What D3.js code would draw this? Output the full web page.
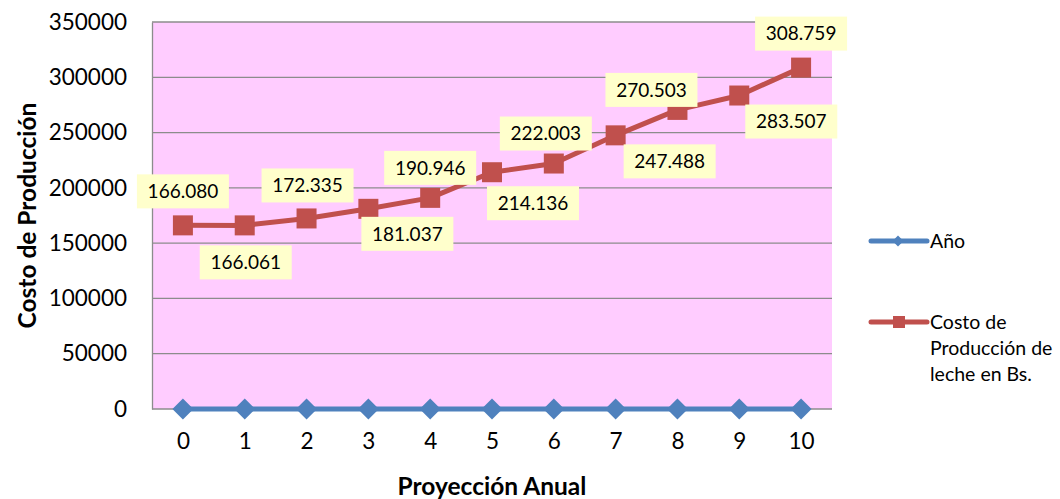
<!DOCTYPE html>
<html>
<head>
<meta charset="utf-8">
<script src="https://cdn.jsdelivr.net/npm/d3@7"></script>
<style>
  body { margin: 0; background: #fff; }
  svg { display: block; font-family: Lato, "Open Sans", sans-serif; }
</style>
</head>
<body>
<div id="chart"></div>
<script>
    // Data
    categorias = ["0", "1", "2", "3", "4", "5", "6", "7", "8", "9", "10"]
    anos = [0, 1, 2, 3, 4, 5, 6, 7, 8, 9, 10]
    costo = [166080, 166061, 172335, 181037, 190946, 214136, 222003, 247488, 270503, 283507, 308759]
    yTicks = [0, 50000, 100000, 150000, 200000, 250000, 300000, 350000]

    // label box offsets (box centre relative to the point), as placed in the original
    labelOffsets = [[0, -34], [1, 37], [1, -33], [39, 25], [0, -30], [41, 31], [-8, -30], [54, 26], [-26, -20], [52, 26], [0, -34]]

    canvas = ({width: 1060, height: 499})
    margin = ({top: 22, right: 228, bottom: 90, left: 152})

    c_red = "#C0504D"
    c_blue = "#4F81BD"
    c_grid = "#8C8C8C"

    x = d3.scalePoint()
        .domain(categorias)
        .range([margin.left, canvas.width - margin.right])
        .padding(0.5)

    y = d3.scaleLinear()
        .domain([0, 350000])
        .range([canvas.height - margin.bottom, margin.top])

    var svg = d3.select("#chart").append("svg")
        .attr("width", canvas.width)
        .attr("height", canvas.height)

    // plot area
    svg.append("rect")
        .attr("x", margin.left)
        .attr("y", margin.top)
        .attr("width", canvas.width - margin.right - margin.left)
        .attr("height", canvas.height - margin.bottom - margin.top)
        .attr("fill", "#FFCCFF")

    // grid
    svg.append("g")
        .selectAll("line")
        .data(yTicks)
        .join("line")
        .attr("x1", margin.left)
        .attr("x2", canvas.width - margin.right)
        .attr("y1", d => y(d))
        .attr("y2", d => y(d))
        .attr("stroke", c_grid)
        .attr("stroke-width", 1.3)

    // y axis
    yAxis = g => g
        .attr("transform", `translate(${margin.left},0)`)
        .call(d3.axisLeft(y).tickValues(yTicks).tickFormat(d3.format("d")).tickSize(0).tickPadding(25))
        .call(g => g.select(".domain").attr("stroke", c_grid).attr("stroke-width", 1.3))
        .call(g => g.selectAll("text").attr("font-size", 22.5).attr("fill", "#000").attr("font-family", "Lato"))

    svg.append("g").call(yAxis)

    // x axis
    xAxis = g => g
        .attr("transform", `translate(0,${canvas.height - margin.bottom})`)
        .call(d3.axisBottom(x).tickSize(0).tickPadding(24))
        .call(g => g.select(".domain").remove())
        .call(g => g.selectAll("text").attr("font-size", 22.5).attr("fill", "#000").attr("font-family", "Lato"))

    svg.append("g").call(xAxis)

    // axis titles
    svg.append("text")
        .attr("x", (margin.left + canvas.width - margin.right) / 2)
        .attr("y", 495)
        .attr("text-anchor", "middle")
        .attr("font-weight", "bold")
        .attr("font-size", 24.5)
        .text("Proyección Anual")

    svg.append("text")
        .attr("transform", `translate(36,${(margin.top + canvas.height - margin.bottom) / 2}) rotate(-90)`)
        .attr("text-anchor", "middle")
        .attr("font-weight", "bold")
        .attr("font-size", 24.5)
        .text("Costo de Producción")

    line = d3.line()
        .x((d, i) => x(categorias[i]))
        .y(d => y(d))

    // Año series
    svg.append("path")
        .attr("fill", "none")
        .attr("stroke", c_blue)
        .attr("stroke-width", 5)
        .attr("stroke-linejoin", "round")
        .attr("d", line(anos))

    svg.append("g")
        .selectAll("path")
        .data(anos)
        .join("path")
        .attr("transform", (d, i) => `translate(${x(categorias[i])},${y(d)})`)
        .attr("d", "M0,-10.5L10.5,0L0,10.5L-10.5,0Z")
        .attr("fill", c_blue)

    // Costo series
    svg.append("path")
        .attr("fill", "none")
        .attr("stroke", c_red)
        .attr("stroke-width", 5)
        .attr("stroke-linejoin", "round")
        .attr("d", line(costo))

    svg.append("g")
        .selectAll("rect")
        .data(costo)
        .join("rect")
        .attr("x", (d, i) => x(categorias[i]) - 10)
        .attr("y", d => y(d) - 10)
        .attr("width", 20)
        .attr("height", 20)
        .attr("fill", c_red)

    // data labels
    fmt = d => d3.format(",")(d).replace(/,/g, ".")

    labels = svg.append("g")
        .selectAll("g")
        .data(costo)
        .join("g")
        .attr("transform", (d, i) => `translate(${x(categorias[i]) + labelOffsets[i][0]},${y(d) + labelOffsets[i][1]})`)

    labels.append("rect")
        .attr("x", -46)
        .attr("y", -17)
        .attr("width", 92)
        .attr("height", 34)
        .attr("fill", "#FFFFCC")

    labels.append("text")
        .attr("text-anchor", "middle")
        .attr("dy", "0.36em")
        .attr("font-size", 19)
        .text(d => fmt(d))

    // legend
    legend = svg.append("g")

    legend.append("line")
        .attr("x1", 871).attr("x2", 927)
        .attr("y1", 241).attr("y2", 241)
        .attr("stroke", c_blue).attr("stroke-width", 5).attr("stroke-linecap", "round")
    legend.append("path")
        .attr("transform", "translate(898,241)")
        .attr("d", "M0,-5.5L5.5,0L0,5.5L-5.5,0Z")
        .attr("fill", c_blue)
    legend.append("text")
        .attr("x", 930).attr("y", 241).attr("dy", "0.36em")
        .attr("font-size", 19.5)
        .text("Año")

    legend.append("line")
        .attr("x1", 871).attr("x2", 927)
        .attr("y1", 322).attr("y2", 322)
        .attr("stroke", c_red).attr("stroke-width", 5).attr("stroke-linecap", "round")
    legend.append("rect")
        .attr("x", 893).attr("y", 316).attr("width", 12).attr("height", 12)
        .attr("fill", c_red)
    legend.append("text")
        .attr("font-size", 19.5)
        .selectAll("tspan")
        .data(["Costo de", "Producción de", "leche en Bs."])
        .join("tspan")
        .attr("x", 930)
        .attr("y", (d, i) => 322 + i * 26)
        .attr("dy", "0.36em")
        .text(d => d)
</script>
</body>
</html>
